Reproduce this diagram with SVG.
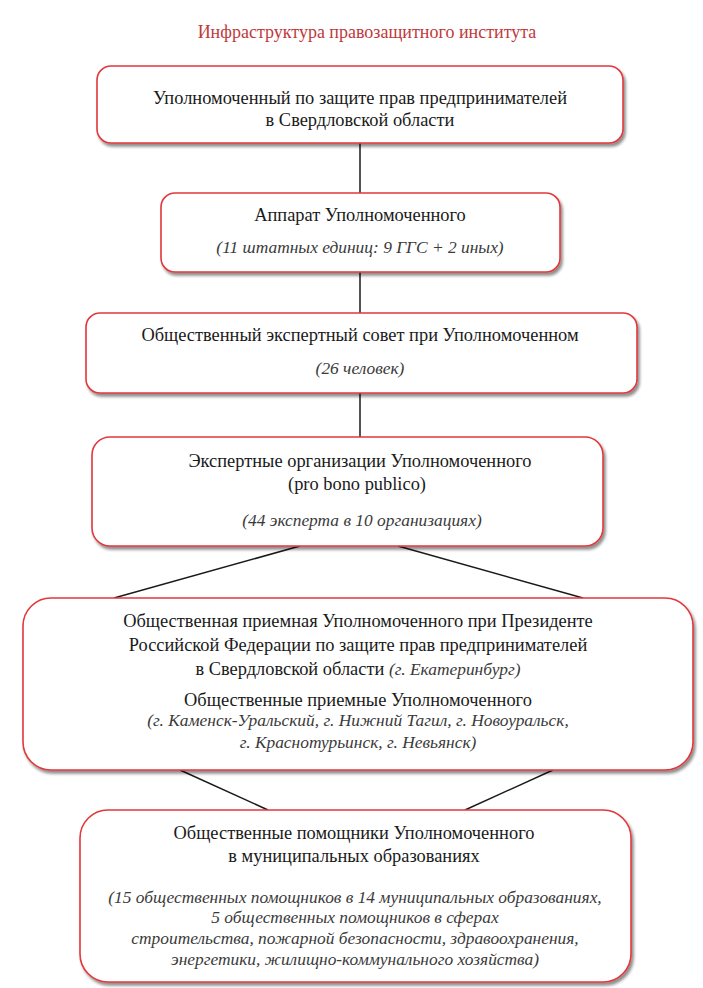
<svg xmlns="http://www.w3.org/2000/svg" width="703" height="988" viewBox="0 0 703 988">
<style>
.box{fill:#fff;stroke:#e0383c;stroke-width:1.6;}
.t{font-family:"Liberation Serif","DejaVu Serif",serif;font-size:18.4px;fill:#1a1a1a;text-anchor:middle;}
.i{font-family:"Liberation Serif","DejaVu Serif",serif;font-size:17.4px;fill:#3a3a3a;font-style:italic;text-anchor:middle;}
.title{font-family:"Liberation Serif","DejaVu Serif",serif;font-size:18px;fill:#c0393b;text-anchor:middle;}
.c{stroke:#1a1a1a;stroke-width:1.5;fill:none;}
</style>
<defs>
<filter id="sh" x="-5%" y="-10%" width="112%" height="125%">
<feGaussianBlur in="SourceAlpha" stdDeviation="1.5"/>
<feOffset dx="2" dy="3" result="o"/>
<feComponentTransfer><feFuncA type="linear" slope="0.45"/></feComponentTransfer>
<feMerge><feMergeNode/><feMergeNode in="SourceGraphic"/></feMerge>
</filter>
</defs>
<rect width="703" height="988" fill="#fff"/>
<text class="title" x="367" y="38">Инфраструктура правозащитного института</text>
<g id="connectors">
<line class="c" x1="360" y1="143" x2="360" y2="193"/>
<line class="c" x1="360" y1="272" x2="360" y2="313"/>
<line class="c" x1="360" y1="393" x2="360" y2="437"/>
<line class="c" x1="300" y1="546" x2="114" y2="598"/>
<line class="c" x1="398" y1="546" x2="583" y2="598"/>
<line class="c" x1="180" y1="770" x2="268" y2="810"/>
<line class="c" x1="553" y1="770" x2="465" y2="810"/>
</g>
<g id="n1">
<rect class="box" x="97" y="66" width="526" height="77" rx="14" filter="url(#sh)"/>
<text class="t" x="360" y="104">Уполномоченный по защите прав предпринимателей</text>
<text class="t" x="360" y="126">в Свердловской области</text>
</g>
<g id="n2">
<rect class="box" x="161" y="193" width="399" height="79" rx="14" filter="url(#sh)"/>
<text class="t" x="360" y="221">Аппарат Уполномоченного</text>
<text class="i" x="360" y="253">(11 штатных единиц: 9 ГГС + 2 иных)</text>
</g>
<g id="n3">
<rect class="box" x="86" y="313" width="551" height="80" rx="14" filter="url(#sh)"/>
<text class="t" x="360" y="341">Общественный экспертный совет при Уполномоченном</text>
<text class="i" x="360" y="374">(26 человек)</text>
</g>
<g id="n4">
<rect class="box" x="92" y="437" width="511" height="109" rx="18" filter="url(#sh)"/>
<text class="t" x="360" y="467">Экспертные организации Уполномоченного</text>
<text class="t" x="357" y="490">(pro bono publico)</text>
<text class="i" x="362" y="526">(44 эксперта в 10 организациях)</text>
</g>
<g id="n5">
<rect class="box" x="23" y="598" width="670" height="172" rx="28" filter="url(#sh)"/>
<text class="t" x="358" y="627">Общественная приемная Уполномоченного при Президенте</text>
<text class="t" x="358" y="651">Российской Федерации по защите прав предпринимателей</text>
<text class="t" x="358" y="675">в Свердловской области <tspan font-style="italic" fill="#3a3a3a" font-size="17.4px">(г. Екатеринбург)</tspan></text>
<text class="t" x="358" y="706">Общественные приемные Уполномоченного</text>
<text class="i" x="358" y="726">(г. Каменск-Уральский, г. Нижний Тагил, г. Новоуральск,</text>
<text class="i" x="358" y="748">г. Краснотурьинск, г. Невьянск)</text>
</g>
<g id="n6">
<rect class="box" x="80" y="810" width="551" height="172" rx="28" filter="url(#sh)"/>
<text class="t" x="354" y="839">Общественные помощники Уполномоченного</text>
<text class="t" x="354" y="862">в муниципальных образованиях</text>
<text class="i" x="355" y="903">(15 общественных помощников в 14 муниципальных образованиях,</text>
<text class="i" x="355" y="923">5 общественных помощников в сферах</text>
<text class="i" x="355" y="944">строительства, пожарной безопасности, здравоохранения,</text>
<text class="i" x="355" y="965">энергетики, жилищно-коммунального хозяйства)</text>
</g>
</svg>
